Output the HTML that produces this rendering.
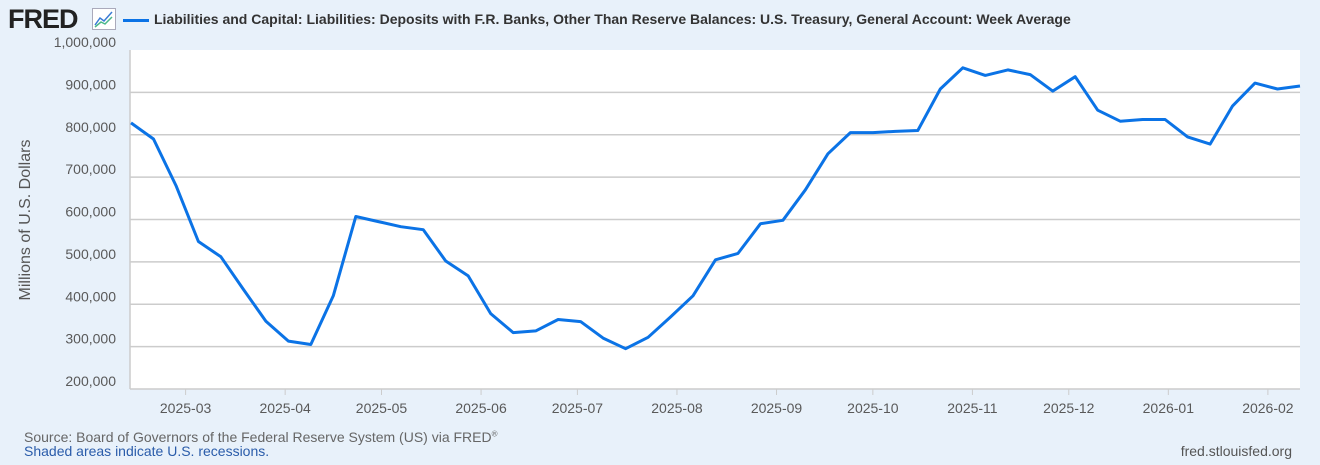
<!DOCTYPE html>
<html><head><meta charset="utf-8"><style>
body{margin:0;width:1320px;height:465px;background:#e8f1fa;font-family:"Liberation Sans",sans-serif;overflow:hidden;position:relative}
.t{position:absolute;white-space:nowrap}
</style></head><body>
<div class="t" style="left:8px;top:4px;font-size:27px;font-weight:bold;color:#222;letter-spacing:-1px">FRED</div>
<svg style="position:absolute;left:92px;top:8px" width="24" height="22"><rect x="0.5" y="0.5" width="23" height="21" fill="#fff" stroke="#aab"/><polyline points="3,17 8,10 12,13 20,4" fill="none" stroke="#3a7bd5" stroke-width="1.5"/><polyline points="3,19 9,14 13,16 20,9" fill="none" stroke="#4cb88a" stroke-width="1.5"/></svg>
<div style="position:absolute;left:123px;top:19px;width:26px;height:3px;background:#0b73e6"></div>
<div class="t" style="left:154px;top:11px;font-size:14px;font-weight:bold;color:#333">Liabilities and Capital: Liabilities: Deposits with F.R. Banks, Other Than Reserve Balances: U.S. Treasury, General Account: Week Average</div>
<div class="t" style="left:26px;top:220px;font-size:16px;color:#555;transform:translate(-50%,-50%) rotate(-90deg)">Millions of U.S. Dollars</div>
<svg id="c" style="position:absolute;left:0;top:0" width="1320" height="465"></svg>
<div class="t" style="left:24px;top:429px;font-size:14px;color:#666">Source: Board of Governors of the Federal Reserve System (US) via FRED<sup style="font-size:8px">®</sup></div>
<div class="t" style="left:24px;top:443px;font-size:14px;color:#2a5caa">Shaded areas indicate U.S. recessions.</div>
<div class="t" style="right:28px;top:443px;font-size:14px;color:#555">fred.stlouisfed.org</div>
<script>
const startDate="2025-02-12";
const values=[828,790,680,548,512,435,360,313,305,420,607,595,583,576,502,467,378,333,337,364,359,320,295,322,370,420,505,520,590,598,670,755,805,805,808,810,908,958,940,953,942,903,937,858,832,836,836,795,778,868,922,908,915];
const yTicks=[200,300,400,500,600,700,800,900,1000];
const yTickLabels=["200,000","300,000","400,000","500,000","600,000","700,000","800,000","900,000","1,000,000"];
const xTickLabels=["2025-03","2025-04","2025-05","2025-06","2025-07","2025-08","2025-09","2025-10","2025-11","2025-12","2026-01","2026-02"];
const NS="http://www.w3.org/2000/svg",svg=document.getElementById('c');
const L=130,R=1300,T=50,B=389,ymin=200,ymax=1000;
const d0=Date.parse(startDate),span=(values.length-1)*7*864e5;
const X=t=>L+1+(t-d0)/span*(R-L-1);
const Y=v=>B-(v-ymin)/(ymax-ymin)*(B-T);
function mk(tag,a){const e=document.createElementNS(NS,tag);for(const k in a)e.setAttribute(k,a[k]);svg.appendChild(e);return e;}
const bg=mk('rect',{x:L,y:T,width:R-L,height:B-T,fill:'#fff'});


yTicks.forEach((v,i)=>{
  if(i>0&&v<ymax){const g=mk('line',{x1:L,x2:R,y1:Y(v),y2:Y(v),stroke:'#ccc','stroke-width':1.5});
  
  }
  const t=mk('text',{x:116,y:Y(v)-3,'text-anchor':'end','font-size':14,fill:'#595959','font-family':'Liberation Sans,sans-serif'});
  t.textContent=yTickLabels[i];
  
  
});
const ax=mk('line',{x1:L,x2:R,y1:B,y2:B,stroke:'#ccc','stroke-width':1.5});


const ay=mk('line',{x1:L,x2:L,y1:T,y2:B,stroke:'#ccc','stroke-width':1.5});


xTickLabels.forEach(s=>{
  const x=X(Date.parse(s+"-01"));
  const k=mk('line',{x1:x,x2:x,y1:B,y2:B+6,stroke:'#ccc','stroke-width':1});
  
  
  const t=mk('text',{x:x,y:413,'text-anchor':'middle','font-size':14,fill:'#595959','font-family':'Liberation Sans,sans-serif'});
  t.textContent=s;
  
  
});
const pts=values.map((v,i)=>X(d0+i*7*864e5).toFixed(1)+','+Y(v).toFixed(1)).join(' ');
const line=mk('polyline',{points:pts,fill:'none',stroke:'#0b73e6','stroke-width':3,'stroke-linejoin':'round'});


</script>
</body></html>
